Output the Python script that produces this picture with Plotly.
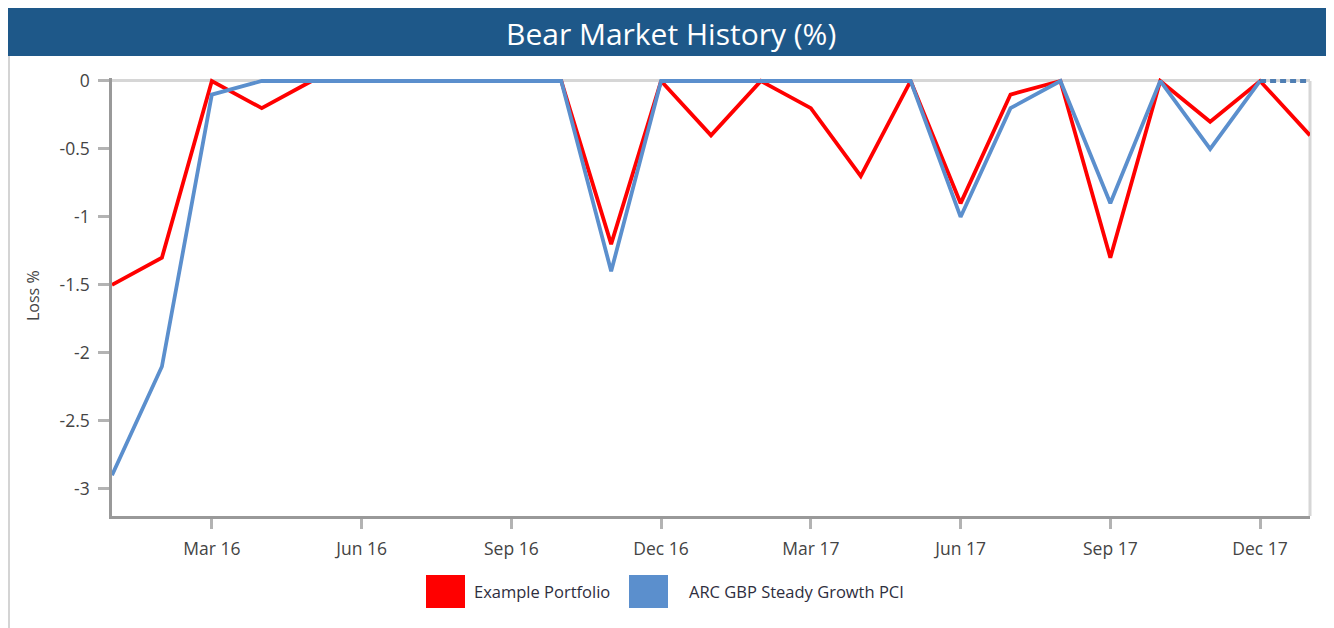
import plotly.graph_objects as go

# ---- data ----
months = ["Jan 16", "Feb 16", "Mar 16", "Apr 16", "May 16", "Jun 16", "Jul 16", "Aug 16",
          "Sep 16", "Oct 16", "Nov 16", "Dec 16", "Jan 17", "Feb 17", "Mar 17", "Apr 17",
          "May 17", "Jun 17", "Jul 17", "Aug 17", "Sep 17", "Oct 17", "Nov 17", "Dec 17", "Jan 18"]
example_portfolio = [-1.5, -1.3, 0, -0.2, 0, 0, 0, 0, 0, 0, -1.2, 0, -0.4, 0, -0.2, -0.7,
                     0, -0.9, -0.1, 0, -1.3, 0, -0.3, 0, -0.4]
arc_steady_growth = [-2.9, -2.1, -0.1, 0, 0, 0, 0, 0, 0, 0, -1.4, 0, 0, 0, 0, 0,
                     0, -1.0, -0.2, 0, -0.9, 0, -0.5, 0, None]
arc_projection_x = ["Dec 17", "Jan 18"]
arc_projection_y = [0, 0]
x_tickvals = ["Mar 16", "Jun 16", "Sep 16", "Dec 16", "Mar 17", "Jun 17", "Sep 17", "Dec 17"]
y_tickvals = [0, -0.5, -1, -1.5, -2, -2.5, -3]
y_ticktext = ["0", "-0.5", "-1", "-1.5", "-2", "-2.5", "-3"]
series_names = ["Example Portfolio", "ARC GBP Steady Growth PCI"]

RED = "#ff0000"
BLUE = "#5b8fcd"
OFF = 8  # page body margin
W, H = 1334 - OFF, 628 - OFF
# plot area in page pixels
PL, PR, PT, PB = 112, 1310, 78, 516
L, R, T, B = PL - OFF, PR - OFF, PT - OFF, PB - OFF


def px(x):
    return (x - PL) / (PR - PL)


def py(y):
    return (PB - y) / (PB - PT)


fig = go.Figure()
fig.add_trace(go.Scatter(x=months, y=example_portfolio, mode="lines", name=series_names[0],
                         line=dict(color=RED, width=3.8), showlegend=False))
fig.add_trace(go.Scatter(x=months, y=arc_steady_growth, mode="lines", name=series_names[1],
                         line=dict(color=BLUE, width=3.8), showlegend=False))
fig.add_trace(go.Scatter(x=arc_projection_x, y=arc_projection_y, mode="lines",
                         line=dict(color="#4f7eb3", width=3.8, dash="6px,4px"), showlegend=False))

font_family = "Open Sans, Noto Sans, sans-serif"
shapes = [
    # title bar
    dict(type="rect", xref="paper", yref="paper", x0=px(8), x1=px(1336), y0=py(56), y1=py(8),
         fillcolor="#1e5889", line=dict(width=0), layer="above"),
    # outer frame sides
    dict(type="line", xref="paper", yref="paper", x0=px(9), x1=px(9), y0=py(56), y1=py(630),
         line=dict(color="#d4d4d4", width=2)),
    dict(type="line", xref="paper", yref="paper", x0=px(1332), x1=px(1332), y0=py(56), y1=py(630),
         line=dict(color="#d4d4d4", width=2)),
    # right plot border
    dict(type="line", xref="paper", yref="paper", x0=1, x1=1, y0=0, y1=py(81),
         line=dict(color="#d6d6d6", width=3), layer="below"),
    # legend squares
    dict(type="rect", xref="paper", yref="paper", x0=px(426), x1=px(465), y0=py(608), y1=py(575),
         fillcolor=RED, line=dict(width=0)),
    dict(type="rect", xref="paper", yref="paper", x0=px(629), x1=px(668), y0=py(608), y1=py(575),
         fillcolor=BLUE, line=dict(width=0)),
]
annotations = [
    dict(text="Bear Market History (%)", xref="paper", yref="paper", x=px(671), y=py(34),
         showarrow=False, font=dict(family=font_family, size=30, color="white"),
         xanchor="center", yanchor="middle"),
    dict(text=series_names[0], xref="paper", yref="paper", x=px(472), y=py(591),
         showarrow=False, font=dict(family=font_family, size=16.5, color="#2e2e3e"),
         xanchor="left", yanchor="middle"),
    dict(text=series_names[1], xref="paper", yref="paper", x=px(687), y=py(591),
         showarrow=False, font=dict(family=font_family, size=16.5, color="#2e2e3e"),
         xanchor="left", yanchor="middle"),
    dict(text="Loss %", xref="paper", yref="paper", x=px(33), y=py(296), textangle=-90,
         showarrow=False, font=dict(family=font_family, size=16, color="#444444"),
         xanchor="center", yanchor="middle"),
]

fig.update_layout(
    width=W, height=H,
    margin=dict(l=L, r=W - R, t=T, b=H - B, pad=0),
    paper_bgcolor="white", plot_bgcolor="white",
    showlegend=False,
    shapes=shapes, annotations=annotations,
    font=dict(family=font_family, color="#444444"),
    xaxis=dict(type="category", categoryorder="array", categoryarray=months,
               range=[0, len(months) - 1], tickmode="array", tickvals=x_tickvals,
               ticktext=x_tickvals, ticks="outside", ticklen=10, tickwidth=2.5,
               tickcolor="#b3b3b3", showline=True, linecolor="#999999", linewidth=2.5,
               showgrid=False, zeroline=False, tickfont=dict(size=17.5, color="#444444"),
               ticklabelstandoff=5),
    yaxis=dict(range=[-3.2, 0.022], tickmode="array",
               tickvals=y_tickvals, ticktext=y_ticktext, ticks="outside", ticklen=11,
               tickwidth=2.5, tickcolor="#b3b3b3", showline=True, linecolor="#999999",
               linewidth=2.5, showgrid=False, zeroline=True, zerolinecolor="#d6d6d6",
               zerolinewidth=3, tickfont=dict(size=17.5, color="#444444"),
               ticklabelstandoff=5),
)

fig.write_html("out.html")
